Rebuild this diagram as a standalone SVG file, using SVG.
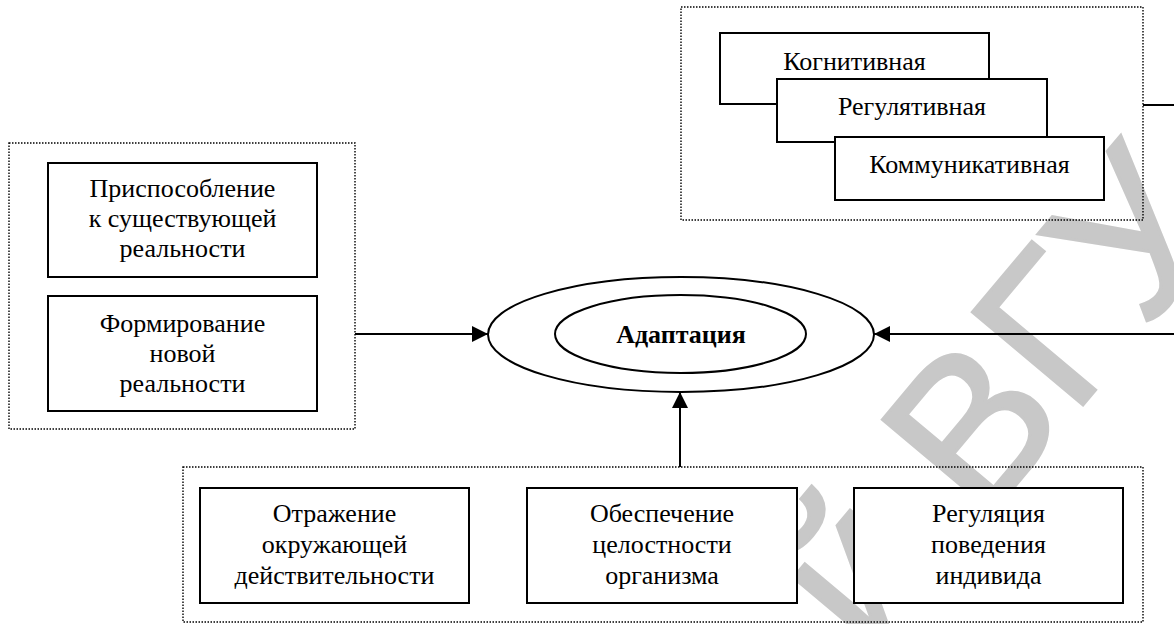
<svg xmlns="http://www.w3.org/2000/svg" width="1174" height="624" viewBox="0 0 1174 624">
<style>
.bg{fill:#fff}
.box{fill:#fff;stroke:#000;stroke-width:2}
.dot{fill:none;stroke:#000;stroke-width:1.4;stroke-dasharray:1.5 1.5}
.ell{fill:#fff;stroke:#000;stroke-width:2}
.t{font-family:"Liberation Serif","Times New Roman",serif;font-size:26px;fill:#000;text-anchor:middle}
.tb{font-family:"Liberation Serif","Times New Roman",serif;font-size:26px;font-weight:bold;fill:#000;text-anchor:middle}
.wm{font-family:"Liberation Sans",Arial,sans-serif;font-size:210px;fill:#c8c8c8;stroke:#c8c8c8;stroke-width:3}
.ln{stroke:#000;stroke-width:2;fill:none}
</style>
<defs>
<marker id="ah" viewBox="0 0 16 16" refX="16" refY="8" markerWidth="16" markerHeight="16" markerUnits="userSpaceOnUse" orient="auto">
<path d="M0,0 L16,8 L0,16 Z" fill="#000"/>
</marker>
</defs>
<rect class="bg" x="0" y="0" width="1174" height="624"/>
<g id="watermark">
<text class="wm" transform="translate(869,660) rotate(-50)">й ВГУ</text>
</g>
<g id="group-left">
<rect class="dot" x="9" y="143" width="346" height="286"/>
<g id="n-adapt1">
<rect class="box" x="48" y="163" width="269" height="114"/>
<text class="t" x="182.5" y="197">Приспособление</text>
<text class="t" x="182.5" y="227">к существующей</text>
<text class="t" x="182.5" y="257">реальности</text>
</g>
<g id="n-adapt2">
<rect class="box" x="48" y="296" width="269" height="115"/>
<text class="t" x="182.5" y="332">Формирование</text>
<text class="t" x="182.5" y="362">новой</text>
<text class="t" x="182.5" y="392">реальности</text>
</g>
</g>
<g id="group-top">
<rect class="dot" x="681" y="7" width="462" height="213"/>
<g id="n-cog">
<rect class="box" x="720" y="33" width="269" height="71"/>
<text class="t" x="854.5" y="70">Когнитивная</text>
</g>
<g id="n-reg">
<rect class="box" x="777" y="79" width="270" height="63"/>
<text class="t" x="912" y="115">Регулятивная</text>
</g>
<g id="n-com">
<rect class="box" x="835" y="137" width="269" height="63"/>
<text class="t" x="969.5" y="173">Коммуникативная</text>
</g>
</g>
<g id="group-bottom">
<rect class="dot" x="183" y="467" width="960" height="155"/>
<g id="n-refl">
<rect class="box" x="200" y="488" width="269" height="115"/>
<text class="t" x="334.5" y="522">Отражение</text>
<text class="t" x="334.5" y="553">окружающей</text>
<text class="t" x="334.5" y="584">действительности</text>
</g>
<g id="n-integ">
<rect class="box" x="527" y="488" width="270" height="115"/>
<text class="t" x="662" y="522">Обеспечение</text>
<text class="t" x="662" y="553">целостности</text>
<text class="t" x="662" y="584">организма</text>
</g>
<g id="n-behav">
<rect class="box" x="854" y="488" width="269" height="115"/>
<text class="t" x="988.5" y="522">Регуляция</text>
<text class="t" x="988.5" y="553">поведения</text>
<text class="t" x="988.5" y="584">индивида</text>
</g>
</g>
<g id="n-center">
<ellipse class="ell" cx="681" cy="334.5" rx="193" ry="57.5"/>
<ellipse class="ell" cx="680.5" cy="334" rx="125.5" ry="39"/>
<text class="tb" x="681" y="343">Адаптация</text>
</g>
<g id="connectors">
<line class="ln" x1="355" y1="334" x2="488" y2="334" marker-end="url(#ah)"/>
<line class="ln" x1="680" y1="467" x2="680" y2="392" marker-end="url(#ah)"/>
<polyline class="ln" points="1143,105 1175,105"/>
<line class="ln" x1="1175" y1="334" x2="874" y2="334" marker-end="url(#ah)"/>
</g>
</svg>
